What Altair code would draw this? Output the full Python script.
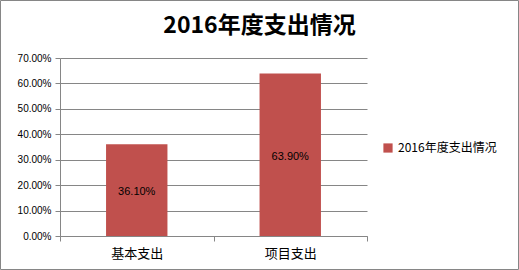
import altair as alt
import pandas as pd

categories = ["基本支出", "项目支出"]
values = [0.361, 0.639]
series_name = "2016年度支出情况"
y_ticks = [0, 0.1, 0.2, 0.3, 0.4, 0.5, 0.6, 0.7]

df = pd.DataFrame({"category": categories, "value": values, "series": [series_name] * len(categories)})

GRAY = "#868686"
LABEL_FONT = "Liberation Sans"
CJK = "Noto Sans CJK SC"

base = alt.Chart(df)

x_axis = alt.Axis(title=None, labelAngle=0, tickBand="extent", tickSize=5,
                  tickColor=GRAY, domainColor=GRAY, labelFont=CJK,
                  labelFontSize=13, labelColor="#000000", labelPadding=6)
y_axis = alt.Axis(title=None, format=".2%", values=y_ticks, labelOverlap=False,
                  tickSize=5, tickColor=GRAY, domainColor=GRAY, gridColor=GRAY,
                  grid=True, labelFont=LABEL_FONT, labelFontSize=10,
                  labelColor="#000000", labelPadding=4)
x_scale = alt.Scale(paddingInner=0, paddingOuter=0)
y_scale = alt.Scale(domain=[0, 0.7], nice=False)

bars = base.mark_bar(width={"band": 0.4}, color="#C0504D").encode(
    x=alt.X("category:N", sort=categories, scale=x_scale, axis=x_axis),
    y=alt.Y("value:Q", scale=y_scale, axis=y_axis),
    color=alt.Color("series:N", scale=alt.Scale(range=["#C0504D"]),
                    legend=alt.Legend(title=None, orient="none", legendX=322, legendY=84,
                                      symbolType="square", symbolSize=85, symbolStrokeWidth=0,
                                      labelFont=CJK, labelFontSize=12, labelColor="#000000")),
)

labels = base.transform_calculate(mid="datum.value / 2").mark_text(
    font=LABEL_FONT, fontSize=11, color="#000000", dy=2
).encode(
    x=alt.X("category:N", sort=categories, scale=x_scale, axis=x_axis),
    y=alt.Y("mid:Q", scale=y_scale, axis=y_axis),
    text=alt.Text("value:Q", format=".2%"),
)

border = base.mark_rect(fill=None, stroke=GRAY, strokeWidth=1).encode(
    x=alt.value(-59.5), x2=alt.value(458.5), y=alt.value(-57.5), y2=alt.value(211.5)
).transform_filter("datum.category == '基本支出'")

chart = alt.layer(bars, labels, border).properties(
    width=307, height=178,
    padding={"left": 60, "top": 58, "right": 152, "bottom": 34},
    autosize=alt.AutoSizeParams(type="none"),
    title=alt.TitleParams(series_name, font=CJK, fontSize=23, fontWeight="bold",
                          color="#000000", anchor="middle", dx=46, offset=-38),
).configure_view(stroke=None).configure_axis(gridWidth=1)

chart.save("out.html", embed_options={"renderer": "svg", "actions": False})
